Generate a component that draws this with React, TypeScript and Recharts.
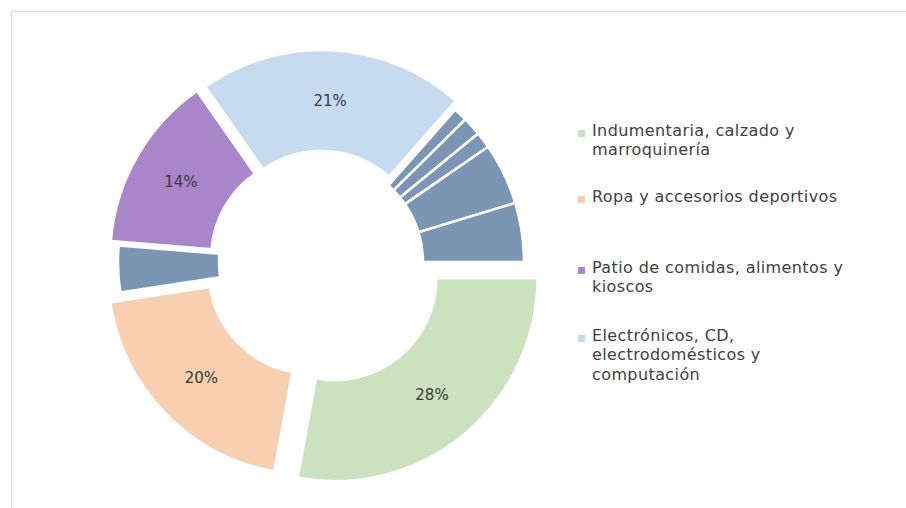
import React from 'react';
import { PieChart, Pie, Cell, Legend } from 'recharts';

// ---- data ----
const categories = [
  'Indumentaria, calzado y marroquinería',
  'Ropa y accesorios deportivos',
  'Otros A',
  'Patio de comidas, alimentos y kioscos',
  'Electrónicos, CD, electrodomésticos y computación',
  'Otros B',
  'Otros C',
  'Otros D',
  'Otros E',
  'Otros F',
];
const values = [27.9, 19.7, 3.7, 14.0, 21.2, 1.1, 1.5, 1.3, 4.9, 4.7];
const labeledSlices = [0, 1, 3, 4];
const legendSlices = [0, 1, 3, 4];
const legendLines = [
  ['Indumentaria, calzado y', 'marroquinería'],
  ['Ropa y accesorios deportivos'],
  ['Patio de comidas, alimentos y', 'kioscos'],
  ['Electrónicos, CD,', 'electrodomésticos y', 'computación'],
];

// ---- style ----
const COLORS = [
  '#cbe2bf',
  '#f8cfb0',
  '#7b96b4',
  '#a986c9',
  '#c6dbf0',
  '#7b96b4',
  '#7b96b4',
  '#7b96b4',
  '#7b96b4',
  '#7b96b4',
];
const EXPLODE = [21, 14, 0, 9, 9, 0, 0, 0, 0, 0];
const CX = 321;
const CY = 262;
const INNER = 102;
const OUTER = 203;
const LEGEND_TOPS = [120.5, 186.7, 257.7, 325.7];
const FONT = '"DejaVu Sans", sans-serif';

const rows = categories.map((name, i) => ({ name, value: values[i] }));
const total = values.reduce((a, b) => a + b, 0);

function explodedCenter(i: number) {
  const before = values.slice(0, i).reduce((a, b) => a + b, 0);
  const midFrac = (before + values[i] / 2) / total;
  const a = midFrac * 2 * Math.PI; // clockwise from 3 o'clock in screen coords
  return { x: CX + EXPLODE[i] * Math.cos(a), y: CY + EXPLODE[i] * Math.sin(a) };
}

const RAD = Math.PI / 180;

function makeLabel(j: number) {
  return (props: any) => {
    const { cx, cy, midAngle, innerRadius, outerRadius, index, percent } = props;
    if (index !== j || !labeledSlices.includes(j)) return null;
    const r = (innerRadius + outerRadius) / 2;
    const x = cx + r * Math.cos(-midAngle * RAD);
    const y = cy + r * Math.sin(-midAngle * RAD);
    return (
      <text
        x={x}
        y={y}
        textAnchor="middle"
        dominantBaseline="central"
        fill="#3a3a3a"
        style={{ fontFamily: FONT, fontSize: 15 }}
      >
        {`${Math.round(percent * 100)}%`}
      </text>
    );
  };
}

const LegendContent = () => (
  <div style={{ position: 'relative', width: 320, height: 508, fontFamily: FONT }}>
    {legendSlices.map((si, k) => (
      <div
        key={si}
        style={{
          position: 'absolute',
          left: 0,
          top: LEGEND_TOPS[k],
          fontSize: 16,
          lineHeight: '19.5px',
          letterSpacing: '0.4px',
          color: '#404040',
          whiteSpace: 'nowrap',
        }}
      >
        <span
          style={{
            position: 'absolute',
            left: 2,
            top: 9,
            width: 7,
            height: 7,
            background: COLORS[si],
          }}
        />
        <div style={{ marginLeft: 16 }}>
          {legendLines[k].map((ln, q) => (
            <div key={q}>{ln}</div>
          ))}
        </div>
      </div>
    ))}
  </div>
);

export default function App() {
  return (
    <div
      style={{
        position: 'absolute',
        left: 0,
        top: 0,
        width: 906,
        height: 508,
        background: '#fff',
        overflow: 'hidden',
        fontFamily: FONT,
      }}
    >
      <div
        style={{
          position: 'absolute',
          left: 11,
          top: 11,
          width: 920,
          height: 520,
          border: '1px solid #d9d9d9',
        }}
      />
      <div style={{ position: 'absolute', left: 0, top: 0 }}>
        <PieChart width={906} height={508} margin={{ top: 0, right: 0, bottom: 0, left: 0 }}>
          {values.map((_, j) => {
            const c = explodedCenter(j);
            return (
              <Pie
                key={j}
                data={rows}
                dataKey="value"
                nameKey="name"
                cx={c.x}
                cy={c.y}
                innerRadius={INNER}
                outerRadius={OUTER}
                startAngle={0}
                endAngle={-360}
                isAnimationActive={false}
                label={makeLabel(j)}
                labelLine={false}
                legendType="none"
              >
                {rows.map((_, i) => (
                  <Cell
                    key={i}
                    fill={i === j ? COLORS[i] : 'none'}
                    stroke={i === j ? '#ffffff' : 'none'}
                    strokeWidth={i === j ? 2.5 : 0}
                  />
                ))}
              </Pie>
            );
          })}
          <Legend
            layout="vertical"
            align="right"
            verticalAlign="top"
            content={<LegendContent />}
            wrapperStyle={{ position: 'absolute', left: 576, top: 0, width: 320, height: 508 }}
          />
        </PieChart>
      </div>
    </div>
  );
}
